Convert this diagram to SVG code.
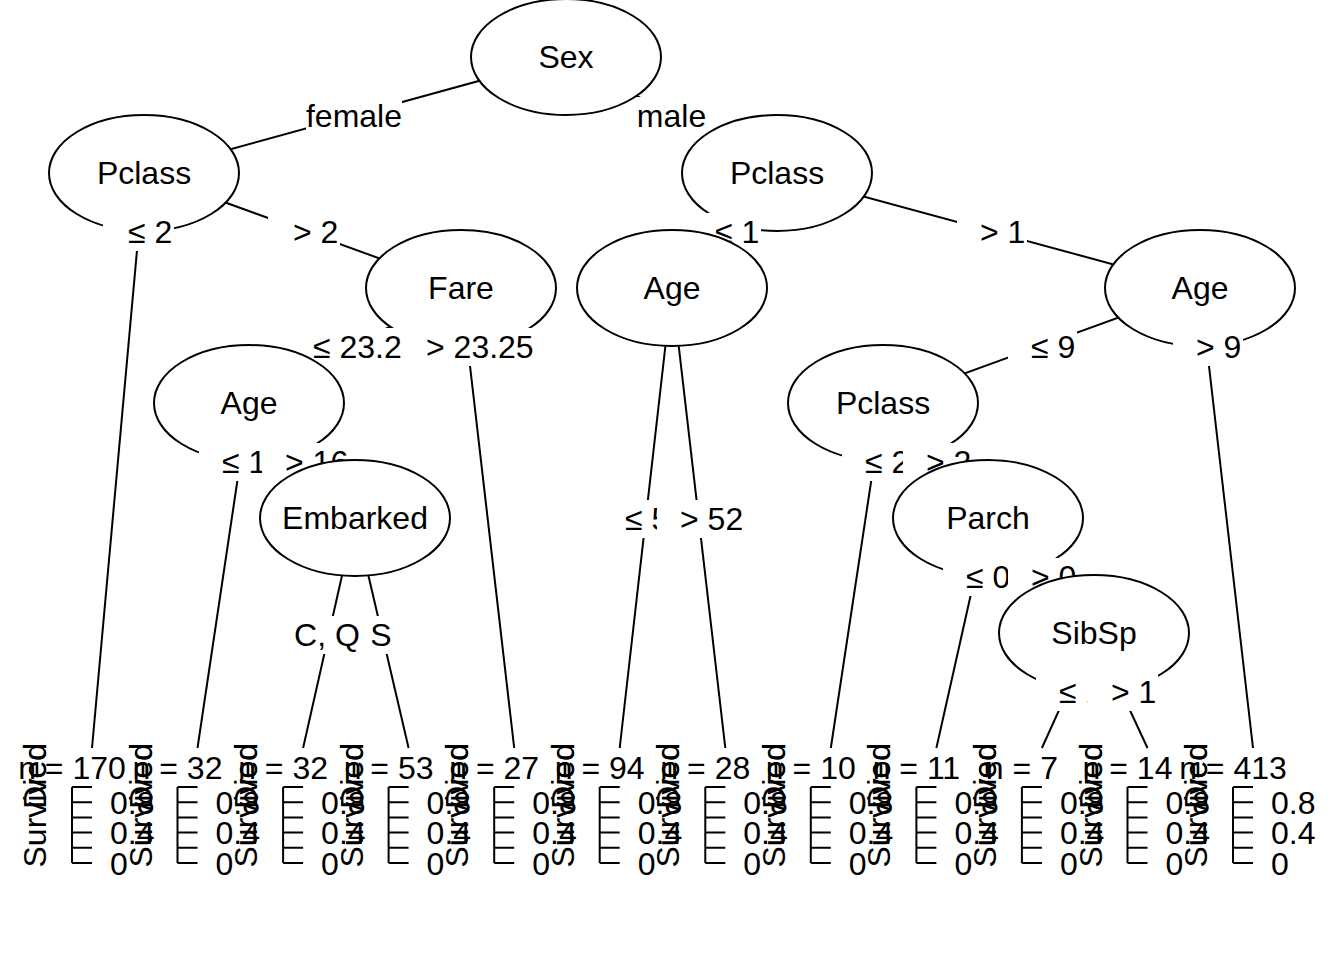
<svg xmlns="http://www.w3.org/2000/svg" width="1344" height="960" viewBox="0 0 1344 960">
<style>
text { font-family: "Liberation Sans", Arial, sans-serif; font-size: 32px; fill: #000; }
.c { text-anchor: middle; }
.r { text-anchor: end; }
.e { fill: #fff; stroke: #000; stroke-width: 2; }
.ln { stroke: #000; stroke-width: 2; fill: none; }
.b { fill: #fff; stroke: none; }
</style>
<defs>
<path id="ax" class="ln" d="M0 787V863M0 787h20M0 802.2h20M0 817.4h20M0 832.6h20M0 847.8h20M0 863h20"/>
</defs>
<rect width="1344" height="960" fill="#fff"/>
<g id="connectors" class="ln">
<line x1="566" y1="57" x2="144" y2="173"/>
<line x1="566" y1="57" x2="777" y2="173"/>
<line x1="144" y1="173" x2="92" y2="748"/>
<line x1="144" y1="173" x2="461" y2="288"/>
<line x1="461" y1="288" x2="249" y2="403"/>
<line x1="461" y1="288" x2="514.2" y2="748"/>
<line x1="249" y1="403" x2="197.5" y2="748"/>
<line x1="249" y1="403" x2="355" y2="518"/>
<line x1="355" y1="518" x2="303.1" y2="748"/>
<line x1="355" y1="518" x2="408.6" y2="748"/>
<line x1="777" y1="173" x2="672" y2="288"/>
<line x1="777" y1="173" x2="1200" y2="288"/>
<line x1="672" y1="288" x2="619.7" y2="748"/>
<line x1="672" y1="288" x2="725.3" y2="748"/>
<line x1="1200" y1="288" x2="883" y2="403"/>
<line x1="1200" y1="288" x2="1253" y2="748"/>
<line x1="883" y1="403" x2="830.8" y2="748"/>
<line x1="883" y1="403" x2="988" y2="518"/>
<line x1="988" y1="518" x2="936.4" y2="748"/>
<line x1="988" y1="518" x2="1094" y2="633"/>
<line x1="1094" y1="633" x2="1041.9" y2="748"/>
<line x1="1094" y1="633" x2="1147.5" y2="748"/>
</g>
<g id="node1">
<ellipse class="e" cx="566" cy="57" rx="95" ry="58"/>
<text class="c" x="566" y="68">Sex</text>
<rect class="b" x="306" y="97" width="96" height="38"/>
<text class="c" x="354" y="127">female</text>
<rect class="b" x="637" y="97" width="69" height="38"/>
<text class="c" x="671.5" y="127">male</text>
</g>
<g id="node2">
<ellipse class="e" cx="144" cy="173" rx="95" ry="58"/>
<text class="c" x="144" y="184">Pclass</text>
<rect class="b" x="103" y="213" width="71" height="38"/>
<text x="128" y="243">≤ 2</text>
<rect class="b" x="268" y="213" width="72" height="38"/>
<text x="293" y="243">&gt; 2</text>
</g>
<g id="node4">
<ellipse class="e" cx="461" cy="288" rx="95" ry="58"/>
<text class="c" x="461" y="299">Fare</text>
<rect class="b" x="290" y="328" width="132" height="38"/>
<text x="313" y="358">≤ 23.25</text>
<rect class="b" x="403" y="328" width="133" height="38"/>
<text x="426" y="358">&gt; 23.25</text>
</g>
<g id="node5">
<ellipse class="e" cx="249" cy="403" rx="95" ry="58"/>
<text class="c" x="249" y="414">Age</text>
<rect class="b" x="199" y="443" width="87" height="38"/>
<text x="222" y="473">≤ 16</text>
<rect class="b" x="262" y="443" width="88" height="38"/>
<text x="285" y="473">&gt; 16</text>
</g>
<g id="node6">
<ellipse class="e" cx="355" cy="518" rx="95" ry="58"/>
<text class="c" x="355" y="529">Embarked</text>
<rect class="b" x="294" y="616" width="66" height="38"/>
<text class="c" x="327" y="646">C, Q</text>
<rect class="b" x="370" y="616" width="22" height="38"/>
<text class="c" x="381" y="646">S</text>
</g>
<g id="node7">
<ellipse class="e" cx="777" cy="173" rx="95" ry="58"/>
<text class="c" x="777" y="184">Pclass</text>
<rect class="b" x="692" y="213" width="69" height="38"/>
<text x="715" y="243">≤ 1</text>
<rect class="b" x="957" y="213" width="70" height="38"/>
<text x="980" y="243">&gt; 1</text>
</g>
<g id="node8">
<ellipse class="e" cx="672" cy="288" rx="95" ry="58"/>
<text class="c" x="672" y="299">Age</text>
<rect class="b" x="602" y="500" width="87" height="38"/>
<text x="625" y="530">≤ 52</text>
<rect class="b" x="657" y="500" width="88" height="38"/>
<text x="680" y="530">&gt; 52</text>
</g>
<g id="node9">
<ellipse class="e" cx="1200" cy="288" rx="95" ry="58"/>
<text class="c" x="1200" y="299">Age</text>
<rect class="b" x="1008" y="328" width="69" height="38"/>
<text x="1031" y="358">≤ 9</text>
<rect class="b" x="1173" y="328" width="70" height="38"/>
<text x="1196" y="358">&gt; 9</text>
</g>
<g id="node10">
<ellipse class="e" cx="883" cy="403" rx="95" ry="58"/>
<text class="c" x="883" y="414">Pclass</text>
<rect class="b" x="842" y="443" width="69" height="38"/>
<text x="865" y="473">≤ 2</text>
<rect class="b" x="903" y="443" width="70" height="38"/>
<text x="926" y="473">&gt; 2</text>
</g>
<g id="node11">
<ellipse class="e" cx="988" cy="518" rx="95" ry="58"/>
<text class="c" x="988" y="529">Parch</text>
<rect class="b" x="943" y="558" width="69" height="38"/>
<text x="966" y="588">≤ 0</text>
<rect class="b" x="1008" y="558" width="70" height="38"/>
<text x="1031" y="588">&gt; 0</text>
</g>
<g id="node12">
<ellipse class="e" cx="1094" cy="633" rx="95" ry="58"/>
<text class="c" x="1094" y="644">SibSp</text>
<rect class="b" x="1036" y="673" width="69" height="38"/>
<text x="1059" y="703">≤ 1</text>
<rect class="b" x="1088" y="673" width="70" height="38"/>
<text x="1111" y="703">&gt; 1</text>
</g>
<g id="term1">
<use href="#ax" x="72"/>
<text class="c" x="72" y="779">n = 170</text>
<text class="r" transform="translate(46,743) rotate(-90)">Died</text>
<text class="r" transform="translate(46,743) rotate(-90)">Survived</text>
<text x="110" y="813.7">0.8</text><text x="110" y="844">0.4</text><text x="110" y="874.5">0</text>
</g>
<g id="term2">
<use href="#ax" x="177.5"/>
<text class="c" x="177.5" y="779">n = 32</text>
<text class="r" transform="translate(151.5,743) rotate(-90)">Died</text>
<text class="r" transform="translate(151.5,743) rotate(-90)">Survived</text>
<text x="215.5" y="813.7">0.8</text><text x="215.5" y="844">0.4</text><text x="215.5" y="874.5">0</text>
</g>
<g id="term3">
<use href="#ax" x="283.1"/>
<text class="c" x="283.1" y="779">n = 32</text>
<text class="r" transform="translate(257.1,743) rotate(-90)">Died</text>
<text class="r" transform="translate(257.1,743) rotate(-90)">Survived</text>
<text x="321.1" y="813.7">0.8</text><text x="321.1" y="844">0.4</text><text x="321.1" y="874.5">0</text>
</g>
<g id="term4">
<use href="#ax" x="388.6"/>
<text class="c" x="388.6" y="779">n = 53</text>
<text class="r" transform="translate(362.6,743) rotate(-90)">Died</text>
<text class="r" transform="translate(362.6,743) rotate(-90)">Survived</text>
<text x="426.6" y="813.7">0.8</text><text x="426.6" y="844">0.4</text><text x="426.6" y="874.5">0</text>
</g>
<g id="term5">
<use href="#ax" x="494.2"/>
<text class="c" x="494.2" y="779">n = 27</text>
<text class="r" transform="translate(468.2,743) rotate(-90)">Died</text>
<text class="r" transform="translate(468.2,743) rotate(-90)">Survived</text>
<text x="532.2" y="813.7">0.8</text><text x="532.2" y="844">0.4</text><text x="532.2" y="874.5">0</text>
</g>
<g id="term6">
<use href="#ax" x="599.7"/>
<text class="c" x="599.7" y="779">n = 94</text>
<text class="r" transform="translate(573.7,743) rotate(-90)">Died</text>
<text class="r" transform="translate(573.7,743) rotate(-90)">Survived</text>
<text x="637.7" y="813.7">0.8</text><text x="637.7" y="844">0.4</text><text x="637.7" y="874.5">0</text>
</g>
<g id="term7">
<use href="#ax" x="705.3"/>
<text class="c" x="705.3" y="779">n = 28</text>
<text class="r" transform="translate(679.3,743) rotate(-90)">Died</text>
<text class="r" transform="translate(679.3,743) rotate(-90)">Survived</text>
<text x="743.3" y="813.7">0.8</text><text x="743.3" y="844">0.4</text><text x="743.3" y="874.5">0</text>
</g>
<g id="term8">
<use href="#ax" x="810.8"/>
<text class="c" x="810.8" y="779">n = 10</text>
<text class="r" transform="translate(784.8,743) rotate(-90)">Died</text>
<text class="r" transform="translate(784.8,743) rotate(-90)">Survived</text>
<text x="848.8" y="813.7">0.8</text><text x="848.8" y="844">0.4</text><text x="848.8" y="874.5">0</text>
</g>
<g id="term9">
<use href="#ax" x="916.4"/>
<text class="c" x="916.4" y="779">n = 11</text>
<text class="r" transform="translate(890.4,743) rotate(-90)">Died</text>
<text class="r" transform="translate(890.4,743) rotate(-90)">Survived</text>
<text x="954.4" y="813.7">0.8</text><text x="954.4" y="844">0.4</text><text x="954.4" y="874.5">0</text>
</g>
<g id="term10">
<use href="#ax" x="1021.9"/>
<text class="c" x="1021.9" y="779">n = 7</text>
<text class="r" transform="translate(995.9,743) rotate(-90)">Died</text>
<text class="r" transform="translate(995.9,743) rotate(-90)">Survived</text>
<text x="1059.9" y="813.7">0.8</text><text x="1059.9" y="844">0.4</text><text x="1059.9" y="874.5">0</text>
</g>
<g id="term11">
<use href="#ax" x="1127.5"/>
<text class="c" x="1127.5" y="779">n = 14</text>
<text class="r" transform="translate(1101.5,743) rotate(-90)">Died</text>
<text class="r" transform="translate(1101.5,743) rotate(-90)">Survived</text>
<text x="1165.5" y="813.7">0.8</text><text x="1165.5" y="844">0.4</text><text x="1165.5" y="874.5">0</text>
</g>
<g id="term12">
<use href="#ax" x="1233"/>
<text class="c" x="1233" y="779">n = 413</text>
<text class="r" transform="translate(1207,743) rotate(-90)">Died</text>
<text class="r" transform="translate(1207,743) rotate(-90)">Survived</text>
<text x="1271" y="813.7">0.8</text><text x="1271" y="844">0.4</text><text x="1271" y="874.5">0</text>
</g>
</svg>
